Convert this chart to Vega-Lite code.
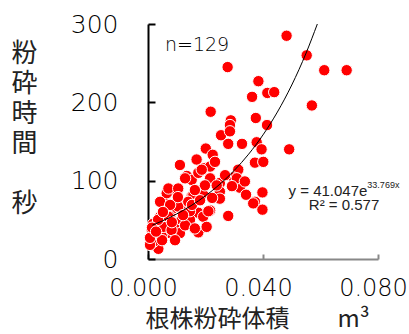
{
  "$schema": "https://vega.github.io/schema/vega-lite/v6.json",
  "autosize": "none",
  "width": 230,
  "height": 235,
  "padding": {"left": 148, "top": 24, "right": 31, "bottom": 75},
  "background": "white",
  "config": {"view": {"stroke": null}},
  "datasets": {
    "pts": [
      {"v": 0.0482, "t": 285}, {"v": 0.0552, "t": 260}, {"v": 0.0613, "t": 241}, {"v": 0.0691, "t": 241},
      {"v": 0.0277, "t": 245}, {"v": 0.0384, "t": 227}, {"v": 0.0415, "t": 212}, {"v": 0.0439, "t": 213},
      {"v": 0.0362, "t": 207}, {"v": 0.0570, "t": 196}, {"v": 0.0218, "t": 188}, {"v": 0.0288, "t": 177},
      {"v": 0.0285, "t": 171}, {"v": 0.0375, "t": 180}, {"v": 0.0414, "t": 171}, {"v": 0.0254, "t": 158},
      {"v": 0.0279, "t": 147}, {"v": 0.0327, "t": 147}, {"v": 0.0378, "t": 149}, {"v": 0.0395, "t": 140},
      {"v": 0.0491, "t": 140}, {"v": 0.0201, "t": 141}, {"v": 0.0225, "t": 133}, {"v": 0.0169, "t": 127},
      {"v": 0.0372, "t": 123}, {"v": 0.0401, "t": 124}, {"v": 0.0111, "t": 120}, {"v": 0.0195, "t": 116},
      {"v": 0.0216, "t": 118}, {"v": 0.0314, "t": 114}, {"v": 0.0135, "t": 106}, {"v": 0.0152, "t": 101},
      {"v": 0.0175, "t": 110}, {"v": 0.0297, "t": 104}, {"v": 0.0331, "t": 99}, {"v": 0.0320, "t": 91},
      {"v": 0.0250, "t": 97}, {"v": 0.0216, "t": 103}, {"v": 0.0071, "t": 86}, {"v": 0.0100, "t": 86},
      {"v": 0.0152, "t": 80}, {"v": 0.0187, "t": 80}, {"v": 0.0250, "t": 86}, {"v": 0.0250, "t": 77},
      {"v": 0.0398, "t": 85}, {"v": 0.0372, "t": 73}, {"v": 0.0398, "t": 63}, {"v": 0.0065, "t": 71},
      {"v": 0.0111, "t": 71}, {"v": 0.0088, "t": 65}, {"v": 0.0135, "t": 61}, {"v": 0.0216, "t": 62},
      {"v": 0.0279, "t": 55}, {"v": 0.0175, "t": 59}, {"v": 0.0192, "t": 54}, {"v": 0.0042, "t": 54},
      {"v": 0.0077, "t": 54}, {"v": 0.0030, "t": 41}, {"v": 0.0059, "t": 39}, {"v": 0.0100, "t": 45},
      {"v": 0.0111, "t": 33}, {"v": 0.0077, "t": 33}, {"v": 0.0175, "t": 34}, {"v": 0.0204, "t": 41},
      {"v": 0.0013, "t": 37}, {"v": 0.0013, "t": 24}, {"v": 0.0036, "t": 13}, {"v": 0.0018, "t": 31},
      {"v": 0.0048, "t": 29}, {"v": 0.0117, "t": 50}, {"v": 0.0146, "t": 50}, {"v": 0.0019, "t": 22},
      {"v": 0.0053, "t": 41}, {"v": 0.0082, "t": 37}, {"v": 0.0071, "t": 54}, {"v": 0.0105, "t": 67},
      {"v": 0.0146, "t": 61}, {"v": 0.0065, "t": 84}, {"v": 0.0158, "t": 82}, {"v": 0.0192, "t": 82},
      {"v": 0.0210, "t": 61}, {"v": 0.0366, "t": 71}, {"v": 0.0140, "t": 73}, {"v": 0.0018, "t": 45},
      {"v": 0.0187, "t": 114}, {"v": 0.0129, "t": 103}, {"v": 0.0239, "t": 94}, {"v": 0.0309, "t": 103},
      {"v": 0.0071, "t": 90}, {"v": 0.0105, "t": 90}, {"v": 0.0337, "t": 99}, {"v": 0.0285, "t": 163},
      {"v": 0.0042, "t": 73}, {"v": 0.0007, "t": 18}, {"v": 0.0024, "t": 34}, {"v": 0.0049, "t": 24},
      {"v": 0.0094, "t": 24}, {"v": 0.0035, "t": 50}, {"v": 0.0129, "t": 43}, {"v": 0.0163, "t": 39},
      {"v": 0.0083, "t": 47}, {"v": 0.0122, "t": 56}, {"v": 0.0153, "t": 69}, {"v": 0.0181, "t": 75},
      {"v": 0.0223, "t": 78}, {"v": 0.0198, "t": 94}, {"v": 0.0268, "t": 107}, {"v": 0.0163, "t": 88},
      {"v": 0.0077, "t": 69}, {"v": 0.0007, "t": 27}, {"v": 0.0052, "t": 60}, {"v": 0.0233, "t": 124},
      {"v": 0.0104, "t": 79}, {"v": 0.0341, "t": 82}, {"v": 0.0292, "t": 93}, {"v": 0.0014, "t": 40},
      {"v": 0.0028, "t": 35}
    ],
    "fit": [
      {"v": 0.0015, "t": 43.18}, {"v": 0.005, "t": 48.60}, {"v": 0.010, "t": 57.54}, {"v": 0.015, "t": 68.12},
      {"v": 0.020, "t": 80.65}, {"v": 0.025, "t": 95.48}, {"v": 0.030, "t": 113.05}, {"v": 0.035, "t": 133.84},
      {"v": 0.040, "t": 158.45}, {"v": 0.045, "t": 187.60}, {"v": 0.050, "t": 222.11}, {"v": 0.055, "t": 262.97},
      {"v": 0.0589, "t": 300}
    ],
    "notes": [
      {"v": 0.0059, "t": 273, "label": "n=129", "kind": "n"},
      {"v": 0.0763, "t": 87, "label": "y = 41.047e", "kind": "eq"},
      {"v": 0.0763, "t": 95, "label": "33.769x", "kind": "sup"},
      {"v": 0.0682, "t": 69, "label": "R² = 0.577", "kind": "r2"}
    ]
  },
  "encoding": {
    "x": {
      "field": "v", "type": "quantitative",
      "scale": {"domain": [0, 0.08], "nice": false, "zero": false},
      "axis": {
        "values": [0, 0.04, 0.08], "format": ".3f", "grid": false,
        "domainColor": "#888888", "domainWidth": 2, "tickColor": "#888888", "tickWidth": 2,
        "tickSize": -5, "labelPadding": 22, "labelOffset": -5, "labelFont": "DejaVu Sans", "labelFontSize": 24,
        "labelFontWeight": 200,
        "labelColor": "#000000", "labelFlush": false, "labelOverlap": false,
        "title": "根株粉砕体積　　m³", "titleFont": "Noto Sans CJK JP", "titleFontSize": 24,
        "titleFontWeight": 400, "titleColor": "#222222",
        "titleX": 109, "titleY": 60, "titleAlign": "center", "titleBaseline": "middle"
      }
    },
    "y": {
      "field": "t", "type": "quantitative",
      "scale": {"domain": [0, 300], "nice": false},
      "axis": {
        "values": [0, 100, 200, 300], "grid": false,
        "domainColor": "#000000", "domainWidth": 2, "tickColor": "#000000", "tickWidth": 2,
        "tickSize": -7, "labelPadding": 37, "labelFont": "DejaVu Sans", "labelFontSize": 25,
        "labelFontWeight": 200,
        "labelColor": "#000000", "labelFlush": false, "labelOverlap": false,
        "title": ["粉", "砕", "時", "間", "\u200b", "秒"], "titleFont": "Noto Sans CJK JP", "titleFontSize": 26,
        "titleFontWeight": 400, "titleColor": "#222222", "titleAngle": 0, "titleLineHeight": 30,
        "titleX": -124, "titleY": 29, "titleAlign": "center", "titleBaseline": "middle"
      }
    }
  },
  "layer": [
    {
      "data": {"name": "pts"},
      "mark": {"type": "circle", "size": 130, "color": "#ff0000", "opacity": 1, "stroke": "white", "strokeWidth": 1}
    },
    {
      "data": {"name": "fit"},
      "mark": {"type": "line", "color": "black", "strokeWidth": 1, "interpolate": "monotone"}
    },
    {
      "data": {"name": "notes"},
      "transform": [{"filter": "datum.kind === 'n'"}],
      "mark": {"type": "text", "align": "left", "baseline": "middle", "font": "DejaVu Sans", "fontSize": 19, "fontWeight": 200, "color": "#000000"},
      "encoding": {"text": {"field": "label"}}
    },
    {
      "data": {"name": "notes"},
      "transform": [{"filter": "datum.kind === 'eq'"}],
      "mark": {"type": "text", "align": "right", "baseline": "middle", "font": "Liberation Sans", "fontSize": 15, "color": "#222222"},
      "encoding": {"text": {"field": "label"}}
    },
    {
      "data": {"name": "notes"},
      "transform": [{"filter": "datum.kind === 'sup'"}],
      "mark": {"type": "text", "align": "left", "baseline": "middle", "font": "Liberation Sans", "fontSize": 9, "color": "#222222"},
      "encoding": {"text": {"field": "label"}}
    },
    {
      "data": {"name": "notes"},
      "transform": [{"filter": "datum.kind === 'r2'"}],
      "mark": {"type": "text", "align": "center", "baseline": "middle", "font": "Liberation Sans", "fontSize": 15, "color": "#222222"},
      "encoding": {"text": {"field": "label"}}
    }
  ]
}
